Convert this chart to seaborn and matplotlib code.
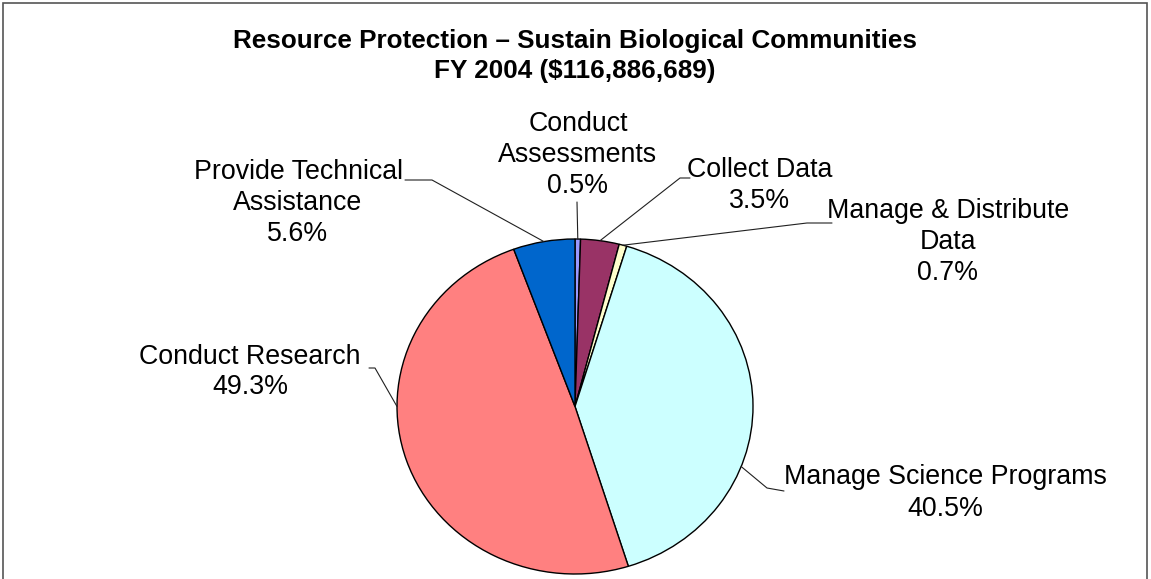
import numpy as np
import matplotlib
matplotlib.use('Agg')
import matplotlib.pyplot as plt
import seaborn as sns
from matplotlib.patches import Rectangle

# chart data
categories = ['Conduct\nAssessments', 'Collect Data', 'Manage & Distribute\nData',
              'Manage Science Programs', 'Conduct Research', 'Provide Technical\nAssistance']
shares = [0.5, 3.5, 0.7, 40.5, 49.3, 5.6]
slice_colors = ['#9999FF', '#993366', '#FFFFCC', '#CCFFFF', '#FF8080', '#0066CC']
title_lines = ['Resource Protection \u2013 Sustain Biological Communities',
               'FY 2004 ($116,886,689)']

sns.set_theme(style='white')
plt.rcParams['font.family'] = ['Liberation Sans', 'DejaVu Sans']

W, H = 1151, 579
# pie centre and radii in pixels (pie is slightly wider than tall)
cx, cy, rx, ry = 575, 406.5, 178, 167.5


def to_pie(px, py):
    """Pixel position (from top-left) -> pie axes data coords."""
    return (px - cx) / rx, (cy - py) / ry


# label layout: text centre, leader elbow points, optional anchor angle
label_layout = [
    dict(text=(578, 155), path=[(577, 202)], angle=None),
    dict(text=(760, 185), path=[(680, 178), (690, 178)], angle=None),
    dict(text=(948, 242), path=[(807, 223), (832, 223)], angle=None),
    dict(text=(945, 493), path=[(767, 488), (784, 491)], angle=-21),
    dict(text=(250, 372), path=[(375, 368), (369, 368)], angle=180),
    dict(text=(298, 203), path=[(432, 180), (405, 180)], angle=None),
]

fig = plt.figure(figsize=(W / 100, H / 100), dpi=100)
fig.patch.set_facecolor('white')

ax = fig.add_axes([(cx - rx) / W, (H - cy - ry) / H, 2 * rx / W, 2 * ry / H])
wedges, _ = ax.pie(shares, colors=sns.color_palette(slice_colors), startangle=90,
                   counterclock=False,
                   wedgeprops=dict(edgecolor='black', linewidth=1.0))
ax.set_aspect('auto')
ax.set_xlim(-1, 1)
ax.set_ylim(-1, 1)
ax.axis('off')

for w, cat, val, lay in zip(wedges, categories, shares, label_layout):
    ang = lay['angle'] if lay['angle'] is not None else (w.theta1 + w.theta2) / 2
    ax0 = np.cos(np.radians(ang))
    ay0 = np.sin(np.radians(ang))
    pts = [(ax0, ay0)] + [to_pie(px, py) for px, py in lay['path']]
    xs, ys = zip(*pts)
    ax.plot(xs, ys, color='#202020', lw=0.8, clip_on=False)
    tx, ty = to_pie(*lay['text'])
    ax.text(tx, ty, f'{cat}\n{val:.1f}%', ha='center', va='center',
            fontsize=19.3, linespacing=1.25, color='black', clip_on=False)

fig.text(575 / W, 1 - 56 / H, '\n'.join(title_lines), ha='center', va='center',
         fontsize=18.8, fontweight='bold', linespacing=1.36, color='black')

# outer frame (open at the bottom, as in the original crop)
fig.add_artist(Rectangle((3 / W, -0.05), (1147 - 3) / W, 1.05 - 3 / H,
                         transform=fig.transFigure, fill=False,
                         edgecolor='#555555', lw=1.2))

fig.savefig('out.png', dpi=100)
